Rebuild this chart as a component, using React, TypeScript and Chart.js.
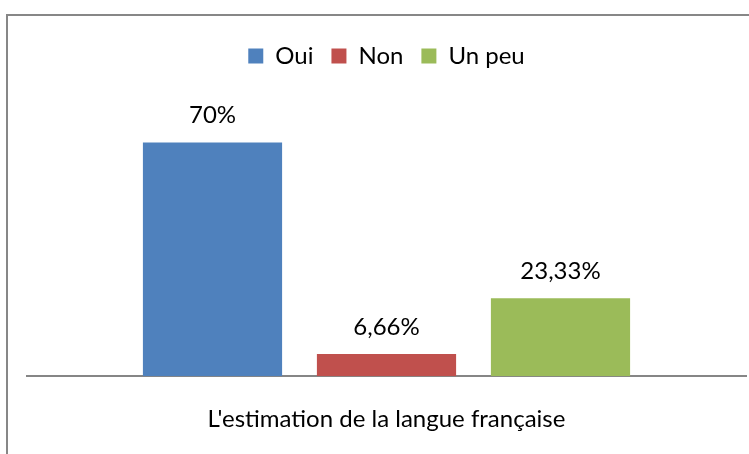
import React, { useEffect, useRef } from "react";
import { Chart, registerables } from "chart.js";

Chart.register(...registerables);

const categories = ["L'estimation de la langue française"];
const seriesNames = ["Oui", "Non", "Un peu"];
const seriesValues = [[70], [6.66], [23.33]];
const seriesColors = ["#4F81BD", "#C0504D", "#9BBB59"];
const axisTitle = "L'estimation de la langue française";

const FONT = "Lato";
const FONT_SIZE = 24;

const valueLabels = {
  id: "valueLabels",
  afterDatasetsDraw(chart: any) {
    const ctx = chart.ctx;
    ctx.save();
    ctx.font = `${FONT_SIZE}px ${FONT}`;
    ctx.fillStyle = "#000";
    ctx.textAlign = "center";
    ctx.textBaseline = "middle";
    chart.data.datasets.forEach((ds: any, i: number) => {
      const meta = chart.getDatasetMeta(i);
      meta.data.forEach((el: any, j: number) => {
        const v = ds.data[j];
        const txt = String(v).replace(".", ",") + "%";
        ctx.fillText(txt, el.x, el.y - 27);
      });
    });
    ctx.restore();
  },
};

export default function App() {
  const ref = useRef<HTMLCanvasElement>(null);
  useEffect(() => {
    document.body.style.margin = "0";
    document.body.style.overflow = "hidden";
    const chart = new Chart(ref.current!, {
      type: "bar",
      data: {
        labels: categories,
        datasets: seriesNames.map((n, i) => ({
          label: n,
          data: seriesValues[i],
          backgroundColor: seriesColors[i],
          categoryPercentage: 0.726,
          barPercentage: 0.8,
        })),
      },
      options: {
        responsive: false,
        animation: false,
        devicePixelRatio: 1,
        layout: { padding: { left: 27, right: 3, top: 26, bottom: 0 } },
        plugins: {
          tooltip: { enabled: false },
          legend: {
            position: "top",
            labels: {
              font: { family: FONT, size: FONT_SIZE },
              color: "#000",
              boxWidth: 15,
              boxHeight: 15,
              padding: 18,
            },
          },
        },
        scales: {
          x: {
            grid: { display: false, drawTicks: false },
            border: { display: true, color: "#868686", width: 2 },
            ticks: { display: false },
            title: {
              display: true,
              text: axisTitle,
              font: { family: FONT, size: FONT_SIZE },
              color: "#000",
              padding: { top: 29, bottom: 20 },
            },
          },
          y: { display: false, min: 0, max: 89.3 },
        },
      },
      plugins: [valueLabels],
    });
    return () => chart.destroy();
  }, []);
  return (
    <div style={{ position: "fixed", left: 0, top: 0, width: 749, height: 454, overflow: "hidden", background: "#fff" }}>
      <div
        style={{
          position: "absolute",
          left: 6,
          top: 14,
          width: 800,
          height: 500,
          border: "2px solid #878787",
          boxSizing: "border-box",
        }}
      />
      <canvas ref={ref} width={749} height={454} style={{ position: "absolute", left: 0, top: 0 }} />
    </div>
  );
}
